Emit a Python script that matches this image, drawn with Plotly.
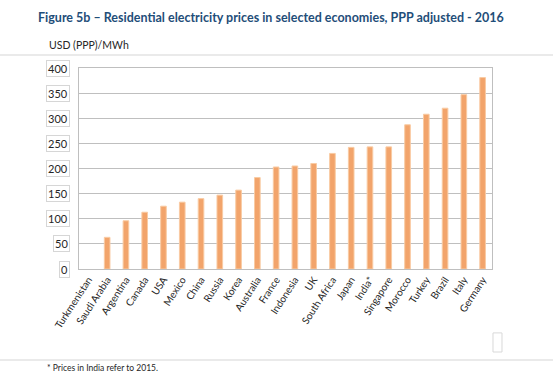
import plotly.graph_objects as go

countries = ["Turkmenistan", "Saudi Arabia", "Argentina", "Canada", "USA", "Mexico",
             "China", "Russia", "Korea", "Australia", "France", "Indonesia", "UK",
             "South Africa", "Japan", "India*", "Singapore", "Morocco", "Turkey",
             "Brazil", "Italy", "Germany"]
prices = [None, 63, 96, 113, 125, 133, 140, 147, 157, 182, 203, 205, 210, 230, 242,
          243, 243, 287, 308, 320, 347, 381]
y_ticks = [0, 50, 100, 150, 200, 250, 300, 350, 400]

title_text = "Figure 5b \u2013 Residential electricity prices in selected economies, PPP adjusted - 2016"
unit_text = "USD (PPP)/MWh"
note_text = "* Prices in India refer to 2015."

FONT = "Lato"
GRID = "#BFBFBF"

fig = go.Figure()
fig.add_trace(go.Bar(
    x=countries, y=prices,
    width=0.3,
    marker=dict(color="#F2A46B", line=dict(color="#F9CBA3", width=1)),
))

annotations = []
for t in y_ticks:
    annotations.append(dict(
        x=0, xref="paper", y=t, yref="y", text=str(t), showarrow=False,
        xanchor="right", yanchor="middle", xshift=-9,
        font=dict(family=FONT, size=11, color="#262626"),
        bordercolor="#D6D6D6", borderwidth=1, borderpad=1, bgcolor="white",
    ))
annotations.append(dict(
    x=-0.0775, xref="paper", y=1.114, yref="paper", text=unit_text, showarrow=False,
    xanchor="left", yanchor="middle", font=dict(family=FONT, size=10.5, color="#262626"),
))
annotations.append(dict(
    x=-0.0823, xref="paper", y=-0.4925, yref="paper", text=note_text, showarrow=False,
    xanchor="left", yanchor="middle", font=dict(family=FONT, size=8.5, color="#262626"),
))

shapes = [
    dict(type="line", xref="paper", yref="paper", x0=-0.2, x1=1.16, y0=1.0647, y1=1.0647,
         line=dict(color="#E3E3E3", width=1.5)),
    dict(type="line", xref="paper", yref="paper", x0=-0.2, x1=1.16, y0=-0.4527, y1=-0.4527,
         line=dict(color="#E3E3E3", width=1.5)),
    dict(type="rect", xref="paper", yref="paper", x0=1.0024, x1=1.0242, y0=-0.413, y1=-0.318,
         line=dict(color="#D9D9D9", width=1)),
]

fig.update_layout(
    width=553, height=377,
    margin=dict(l=79, r=61, t=68, b=108),
    paper_bgcolor="white", plot_bgcolor="white",
    showlegend=False,
    title=dict(text=title_text, x=38 / 553, xanchor="left", y=1 - 18 / 377, yanchor="middle",
               xref="container", yref="container",
               font=dict(family=FONT, size=12.5, color="#1F4E79", weight="bold")),
    annotations=annotations,
    shapes=shapes,
    bargap=0.6,
)
fig.update_xaxes(
    showline=True, linecolor=GRID, linewidth=1, mirror=True,
    tickangle=-57, ticks="", tickfont=dict(family=FONT, size=10, color="#262626"),
    showgrid=False,
)
fig.update_yaxes(
    range=[0, 400], tickvals=y_ticks, showticklabels=False,
    showline=True, linecolor=GRID, linewidth=1, mirror=True,
    showgrid=True, gridcolor=GRID, gridwidth=1, zeroline=False, ticks="",
)

fig.write_html("out.html", config={"displayModeBar": False})

# remove the browser's default page margin so the figure sits at the window's top-left
with open("out.html", "r", encoding="utf-8") as f:
    html = f.read()
html = html.replace("<head>", "<head><style>html,body{margin:0;padding:0;overflow:hidden;}</style>", 1)
with open("out.html", "w", encoding="utf-8") as f:
    f.write(html)
